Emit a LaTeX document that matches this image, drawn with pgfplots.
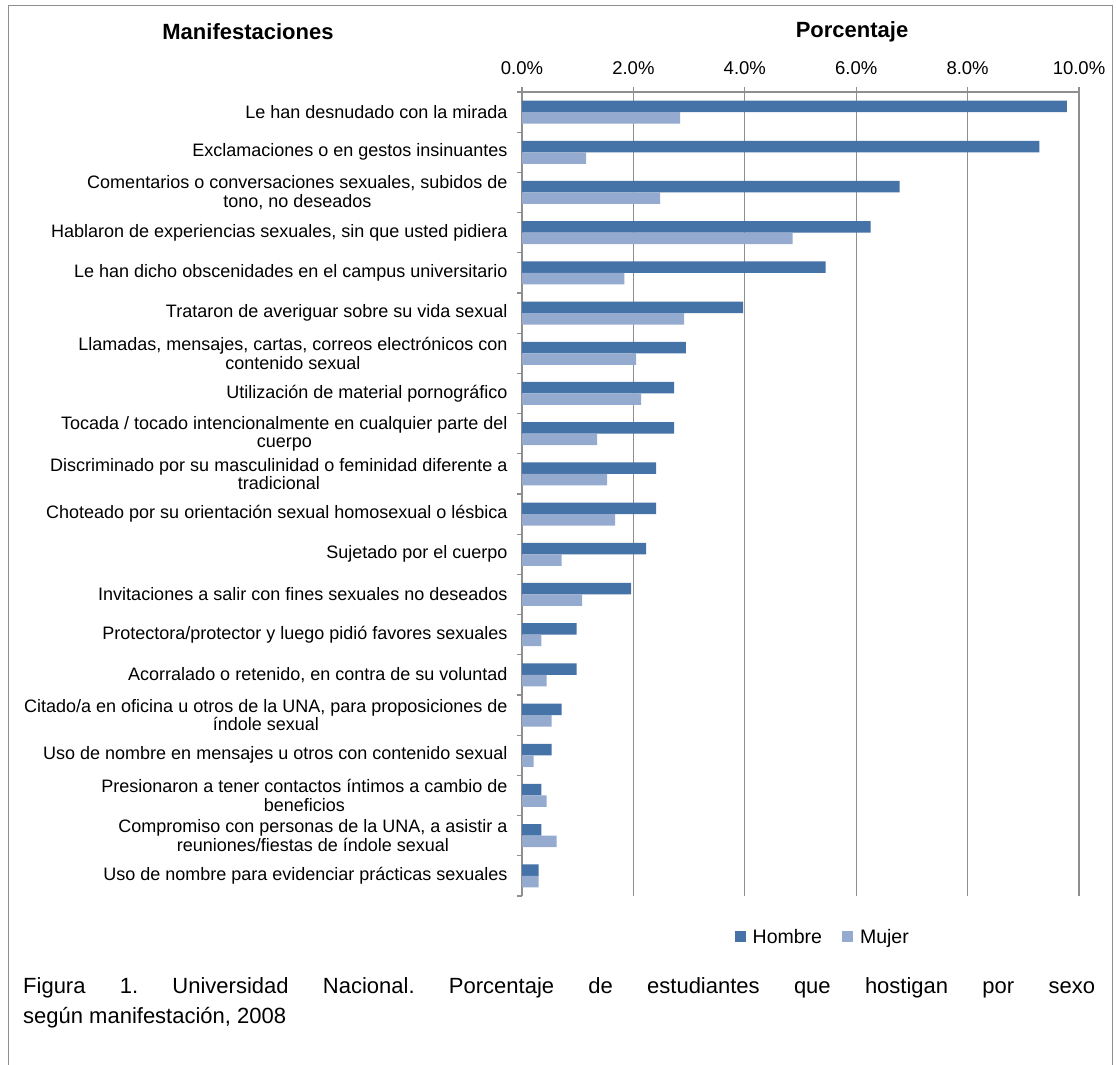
\documentclass[border=0pt]{standalone}
\usepackage{pgfplots}
\pgfplotsset{compat=1.18}
\usepackage{pgfplotstable}
\usepackage{fontspec}
\setmainfont{Liberation Sans}
\definecolor{hombre}{HTML}{4572A7}
\definecolor{mujer}{HTML}{95AACF}
\definecolor{gridg}{HTML}{8E8E8E}
\pgfplotstableread{
y h m
19 9.78 2.84
18 9.29 1.15
17 6.78 2.48
16 6.26 4.86
15 5.45 1.84
14 3.97 2.91
13 2.94 2.05
12 2.73 2.14
11 2.73 1.35
10 2.41 1.53
9 2.41 1.67
8 2.23 0.71
7 1.96 1.08
6 0.98 0.35
5 0.98 0.44
4 0.71 0.53
3 0.53 0.21
2 0.35 0.44
1 0.35 0.62
0 0.30 0.30
}\datatable
\begin{document}
\frenchspacing
\begin{tikzpicture}
\useasboundingbox (0,0) rectangle (1117bp,1065bp);
\fill[white] (0,0) rectangle (1117bp,1065bp);
\draw[gridg, line width=1bp] (8.5bp,0) -- (8.5bp,1059.5bp) -- (1112.5bp,1059.5bp) -- (1112.5bp,0);
\begin{axis}[
  at={(522bp,169bp)}, anchor=south west,
  scale only axis, width=557bp, height=804bp,
  xbar, bar width=11.5bp,
  xmin=0, xmax=10, ymin=-0.5, ymax=19.5,
  axis x line*=top, axis y line*=left,
  axis line style={gridg, line width=1.2bp},
  xtick={0,2,4,6,8,10},
  xticklabels={0.0\%,2.0\%,4.0\%,6.0\%,8.0\%,10.0\%},
  xticklabel style={font=\fontsize{18.5bp}{20bp}\selectfont, yshift=9bp},
  xmajorgrids, major grid style={gridg, line width=1.2bp},
  tick style={gridg, line width=1.2bp},
  major tick length=5bp, tick align=outside,
  ytick={0,...,19},
  y tick style={draw=none},
  yticklabels={
    Uso de nombre para evidenciar prácticas sexuales,
    {Compromiso con personas de la UNA, a asistir a\\reuniones/fiestas de índole sexual},
    {Presionaron a tener contactos íntimos a cambio de\\beneficios},
    Uso de nombre en mensajes u otros con contenido sexual,
    {Citado/a en oficina u otros de la UNA, para proposiciones de\\índole sexual},
    {Acorralado o retenido, en contra de su voluntad},
    Protectora/protector y luego pidió favores sexuales,
    Invitaciones a salir con fines sexuales no deseados,
    Sujetado por el cuerpo,
    Choteado por su orientación sexual homosexual o lésbica,
    Discriminado por su masculinidad o feminidad diferente a\\tradicional,
    Tocada / tocado intencionalmente en cualquier parte del\\cuerpo,
    Utilización de material pornográfico,
    {Llamadas, mensajes, cartas, correos electrónicos con\\contenido sexual},
    Trataron de averiguar sobre su vida sexual,
    Le han dicho obscenidades en el campus universitario,
    {Hablaron de experiencias sexuales, sin que usted pidiera},
    {Comentarios o conversaciones sexuales, subidos de\\tono, no deseados},
    Exclamaciones o en gestos insinuantes,
    Le han desnudado con la mirada},
  yticklabel style={font=\fontsize{18bp}{18.5bp}\selectfont, align=center, xshift=-6bp},
  extra y ticks={-0.5,0.5,...,19.5},
  extra y tick labels={},
  extra y tick style={y tick style={draw=gridg}, major tick length=5bp, grid=none},
  legend style={at={(0.54,-0.051)}, anchor=center, draw=none, fill=none,
    legend columns=2, font=\fontsize{19.5bp}{20bp}\selectfont,
    /tikz/every odd column/.append style={column sep=5bp},
    /tikz/every even column/.append style={column sep=18bp}},
  legend image code/.code={\fill[#1] (0bp,-5bp) rectangle (11bp,6bp);},
]
\addplot[draw=none, fill=hombre, bar shift=5.75bp] table[x=h, y=y] {\datatable};
\addlegendentry{Hombre}
\addplot[draw=none, fill=mujer, bar shift=-5.75bp] table[x=m, y=y] {\datatable};
\addlegendentry{Mujer}
\end{axis}
\node[font=\bfseries\fontsize{22bp}{24bp}\selectfont] at (248bp,1033bp) {Manifestaciones};
\node[font=\bfseries\fontsize{22bp}{24bp}\selectfont] at (852bp,1033bp) {Porcentaje};
\node[anchor=north west, inner sep=0pt, text width=1072bp, align=justify,
  font=\fontsize{22bp}{30bp}\selectfont\frenchspacing] at (23bp,88bp)
  {Figura 1. Universidad Nacional. Porcentaje de estudiantes que hostigan por sexo\linebreak según manifestación, 2008};
\end{tikzpicture}
\end{document}
